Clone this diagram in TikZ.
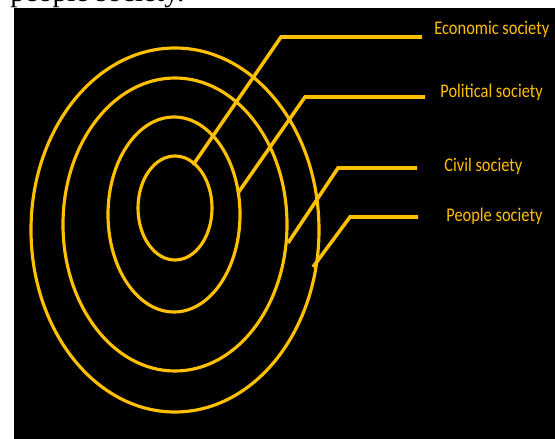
\documentclass[tikz,border=0pt]{standalone}
\usepackage{fontspec}
\setmainfont{Liberation Serif}
\newfontfamily\labelfont[FakeStretch=0.85]{Carlito}
\definecolor{ringgold}{RGB}{255,192,0}
\tikzset{
  ringline/.style={
    draw=ringgold,
    line width=1.8pt
  },
  leaderline/.style={
    draw=ringgold,
    line width=2pt,
    line join=miter
  },
  ringlabel/.style={
    text=ringgold,
    font=\labelfont\fontsize{11}{13}\selectfont,
    inner sep=0pt,
    anchor=base west
  }
}

\begin{document}
\begin{tikzpicture}[x=0.02cm,y=-0.02cm]

  % Page area and the black panel of the figure.
  \useasboundingbox (0,0) rectangle (555,439);
  \fill[white] (0,0) rectangle (555,439);
  \fill[black] (14,8) rectangle (555,439);

  % Caption line cut off by the top edge of the crop.
  \begin{scope}
    \clip (0,0) rectangle (555,8);
    \node[font=\fontsize{16.7}{18}\selectfont,inner sep=0pt,anchor=base west]
      (captiontail) at (10,2) {people society.};
  \end{scope}

  % Nested rings, from the inner one outwards.
  \draw[ringline] (175,208)   ellipse[x radius=37,  y radius=52];
  \draw[ringline] (174,214.5) ellipse[x radius=66,  y radius=97.5];
  \draw[ringline] (175,224.5) ellipse[x radius=112, y radius=146.5];
  \draw[ringline] (175,230)   ellipse[x radius=144, y radius=182];

  % Points where the leaders leave the rings.
  \coordinate (econ foot)   at (193,165);
  \coordinate (polit foot)  at (238,193);
  \coordinate (civil foot)  at (288,243);
  \coordinate (people foot) at (313,267);

  % Knees and free ends of the leaders.
  \coordinate (econ knee)   at (281,37);
  \coordinate (polit knee)  at (305,97);
  \coordinate (civil knee)  at (338,168);
  \coordinate (people knee) at (350,217);
  \coordinate (econ end)    at (422,37);
  \coordinate (polit end)   at (425,97);
  \coordinate (civil end)   at (417,168);
  \coordinate (people end)  at (418,217);

  % Ring names.
  \node[ringlabel] (econ)   at (434,35)  {Economic society};
  \node[ringlabel] (polit)  at (440,98)  {Political society};
  \node[ringlabel] (civil)  at (444,172) {Civil society};
  \node[ringlabel] (people) at (446,222) {People society};

  % Leaders from each ring to its name.
  \draw[leaderline] (econ foot)   -- (econ knee)   -- (econ end);
  \draw[leaderline] (polit foot)  -- (polit knee)  -- (polit end);
  \draw[leaderline] (civil foot)  -- (civil knee)  -- (civil end);
  \draw[leaderline] (people foot) -- (people knee) -- (people end);

\end{tikzpicture}
\end{document}
